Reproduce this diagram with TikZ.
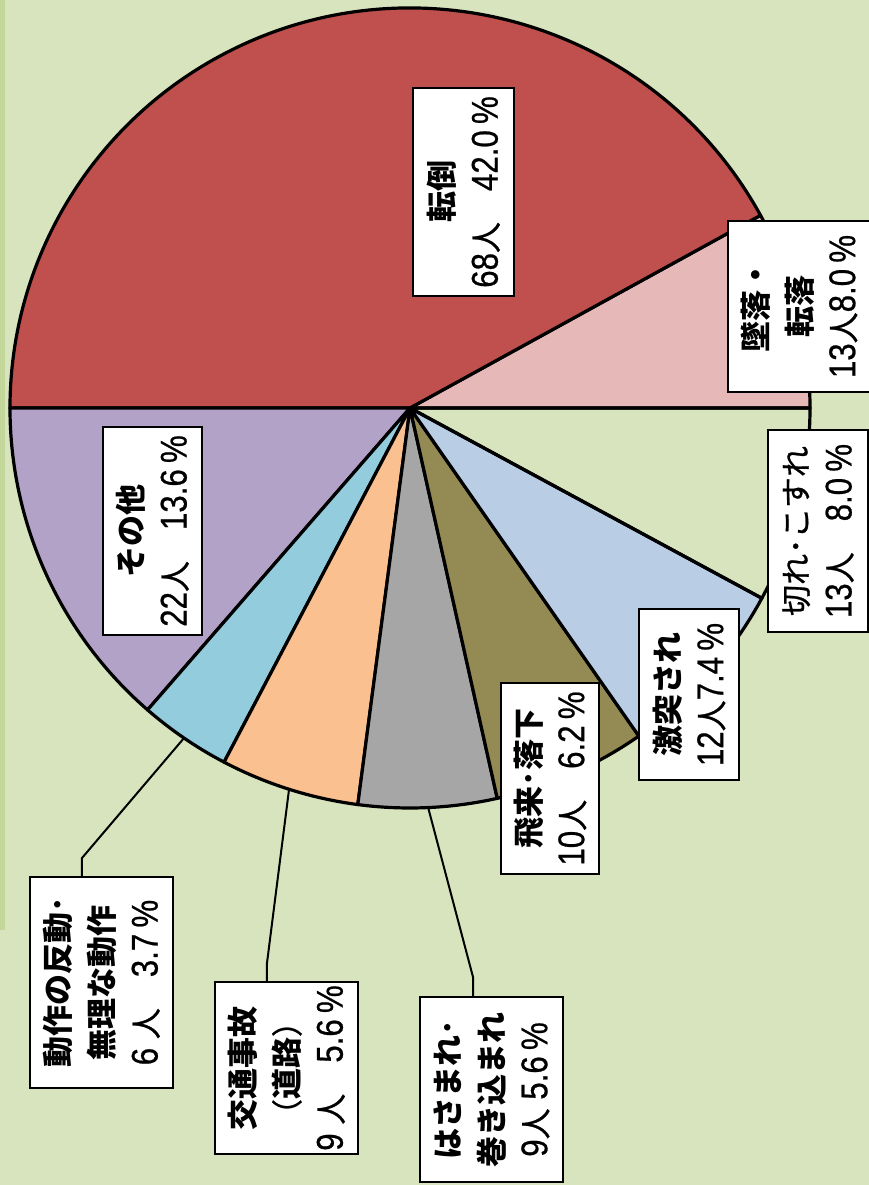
\documentclass[tikz,border=0pt]{standalone}
\usepackage{fontspec}
\newfontfamily\jpfont[UprightFeatures={FakeBold=0.8}]{Noto Sans CJK JP}
\newfontfamily\numfont[Scale=1.2,FakeStretch=0.84,FakeBold=0.6]{Liberation Sans}
\newcommand\nm[1]{{\numfont #1}}
\definecolor{bgc}{HTML}{D7E4BD}
\definecolor{stripc}{HTML}{C4D79B}
\definecolor{tentou}{HTML}{C0504D}
\definecolor{tsuiraku}{HTML}{E6B9B8}
\definecolor{gekitotsu}{HTML}{B9CDE5}
\definecolor{hirai}{HTML}{948A54}
\definecolor{hasamare}{HTML}{A6A6A6}
\definecolor{koutsu}{HTML}{FAC090}
\definecolor{dousa}{HTML}{93CDDD}
\definecolor{sonota}{HTML}{B3A2C7}

\begin{document}
\begin{tikzpicture}[x=1pt,y=1pt,
    slice/.style={draw=black,line width=3.2pt,line join=round},
    lead/.style={draw=black,line width=2pt},
    lbox/.style={draw=black,fill=white,line width=2pt,rotate=90,align=center,inner sep=0pt,
      font=\jpfont\fontsize{31}{44}\selectfont}]
  \useasboundingbox (-410,408) rectangle (459,-777);
  \fill[bgc] (-410,408) rectangle (459,-777);
  \fill[stripc] (-410,408) rectangle (-405,-522);
  \foreach \a/\b/\c in {0/28.8/tsuiraku,28.8/180/tentou,180/229/sonota,229/242.3/dousa,
      242.3/262.5/koutsu,262.5/282.6/hasamare,282.6/304.9/hirai,304.9/331.6/gekitotsu,331.6/360/none}
    \filldraw[slice,fill=\c] (0,0) -- (\a:400) arc[start angle=\a,end angle=\b,radius=400pt] -- cycle;
  \coordinate (e1) at (-328,-450);
  \coordinate (e2) at (-143,-555);
  \coordinate (e3) at (63,-569);
  \node[lbox,minimum width=208pt,minimum height=101pt] (tentou) at (53.5,216) {{\bfseries 転倒}\\\nm{68}人　\nm{42.0\,\%}};
  \node[lbox,minimum width=171pt,minimum height=142pt] (tsuiraku) at (389,101.5) {{\bfseries 墜落・}\\{\bfseries 転落}\\\nm{13}人\nm{8.0\,\%}};
  \node[lbox,minimum width=202pt,minimum height=100pt] (kire) at (408,-123) {切れ･こすれ\\\nm{13}人　\nm{8.0\,\%}};
  \node[lbox,minimum width=171pt,minimum height=100pt] (gekitotsu) at (279,-286.5) {{\bfseries 激突され}\\\nm{12}人\nm{7.4\,\%}};
  \node[lbox,minimum width=191pt,minimum height=98pt] (hirai) at (140,-370.5) {{\bfseries 飛来･落下}\\\nm{10}人　\nm{6.2\,\%}};
  \node[lbox,minimum width=185pt,minimum height=143pt] (hasamare) at (81.5,-681.5) {{\bfseries はさまれ･}\\{\bfseries 巻き込まれ}\\\nm{9}人\nm{ 5.6\,\%}};
  \node[lbox,minimum width=172pt,minimum height=143pt] (koutsu) at (-123.5,-660) {{\bfseries 交通事故}\\（{\bfseries 道路}）\\\nm{9 }人　\nm{5.6\,\%}};
  \node[lbox,minimum width=211pt,minimum height=143pt] (dousa) at (-308.5,-574.5) {{\bfseries 動作の反動･}\\{\bfseries 無理な動作}\\\nm{6 }人　\nm{3.7\,\%}};
  \node[lbox,minimum width=208pt,minimum height=99pt] (sonota) at (-257.5,-123) {{\bfseries その他}\\\nm{22}人　\nm{13.6\,\%}};
  \draw[lead] (235.6:400) -- (e1) -- (e1 |- dousa.east);
  \draw[lead] (252.4:400) -- (e2) -- (e2 |- koutsu.east);
  \draw[lead] (272.6:400) -- (e3) -- (e3 |- hasamare.east);
\end{tikzpicture}
\end{document}
